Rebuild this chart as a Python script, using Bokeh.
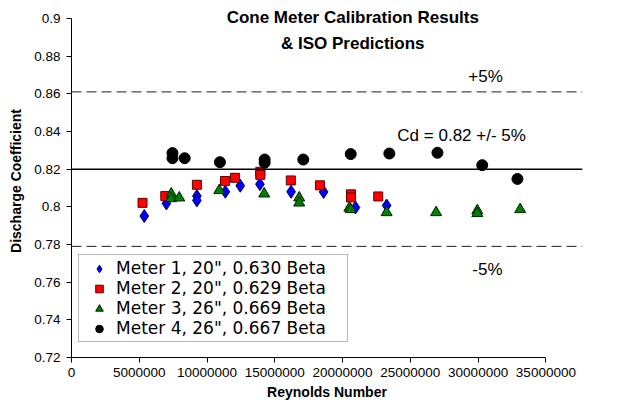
from bokeh.plotting import figure
from bokeh.models import (Range1d, FixedTicker, NumeralTickFormatter, CustomJSTickFormatter,
                          Span, Label, Legend, LegendItem)
from bokeh.embed import file_html
from bokeh.resources import INLINE

# ---------------- data ----------------
re1 = [5.37e6, 7.0e6, 9.25e6, 9.25e6, 11.35e6, 12.45e6, 13.9e6, 16.2e6, 18.6e6, 20.95e6, 23.25e6]
cd1 = [0.7951, 0.8018, 0.8057, 0.8034, 0.8080, 0.8112, 0.8120, 0.8080, 0.8079, 0.7996, 0.8007]

re2 = [5.24e6, 6.92e6, 9.25e6, 11.32e6, 12.06e6, 13.93e6, 13.93e6, 16.18e6, 18.33e6, 20.62e6, 20.62e6, 22.63e6]
cd2 = [0.8021, 0.8057, 0.8117, 0.8137, 0.8154, 0.8186, 0.8170, 0.8140, 0.8114, 0.8066, 0.8050, 0.8055]

re3 = [7.36e6, 7.36e6, 7.95e6, 10.9e6, 14.22e6, 16.8e6, 16.8e6, 20.5e6, 20.6e6, 23.25e6, 26.9e6, 29.94e6, 29.94e6, 33.1e6]
cd3 = [0.8069, 0.8044, 0.8048, 0.8087, 0.8069, 0.8048, 0.8021, 0.7994, 0.7986, 0.7970, 0.7970, 0.7980, 0.7965, 0.7986]

re4 = [7.45e6, 7.45e6, 8.35e6, 10.95e6, 14.25e6, 14.25e6, 17.1e6, 20.6e6, 23.45e6, 27.0e6, 30.3e6, 32.9e6]
cd4 = [0.8285, 0.8258, 0.8258, 0.8237, 0.8251, 0.8234, 0.8251, 0.8280, 0.8283, 0.8287, 0.8221, 0.8148]

series_labels = ['Meter 1, 20", 0.630 Beta', 'Meter 2, 20", 0.629 Beta',
                 'Meter 3, 26", 0.669 Beta', 'Meter 4, 26", 0.667 Beta']

cd_nominal = 0.82
cd_upper = 0.861
cd_lower = 0.779

x_ticks = [0, 5000000, 10000000, 15000000, 20000000, 25000000, 30000000, 35000000]
y_ticks = [0.72, 0.74, 0.76, 0.78, 0.80, 0.82, 0.84, 0.86, 0.88, 0.90]

FONT = "Liberation Sans"

# ---------------- figure ----------------
# frame extends a little above 0.9 (room for the title) and right of 35e6 (reference lines run on)
p = figure(width=607, height=404, output_backend="svg", toolbar_location=None,
           x_range=Range1d(0, 37.7e6), y_range=Range1d(0.72, 0.9074),
           min_border_left=71, min_border_right=25, min_border_top=4, min_border_bottom=47)
p.outline_line_color = None
p.grid.visible = False
p.background_fill_color = "white"
p.border_fill_color = "white"

for ax in (p.xaxis[0], p.yaxis[0]):
    ax.axis_line_color = "black"
    ax.axis_line_width = 1
    ax.major_tick_line_color = "black"
    ax.major_tick_in = 0
    ax.major_tick_out = 5
    ax.minor_tick_line_color = None
    ax.major_label_text_font = FONT
    ax.major_label_text_font_size = "13.5px"
    ax.major_label_text_color = "black"
    ax.axis_label_text_font = FONT
    ax.axis_label_text_font_size = "14px"
    ax.axis_label_text_font_style = "bold"
    ax.axis_label_text_color = "black"

p.xaxis.ticker = FixedTicker(ticks=x_ticks)
p.xaxis.bounds = (0, 35000000)
p.xaxis.formatter = NumeralTickFormatter(format="0")
p.xaxis.major_label_standoff = 5
p.xaxis.axis_label = "Reynolds Number"
p.xaxis.axis_label_standoff = 4

p.yaxis.ticker = FixedTicker(ticks=y_ticks)
p.yaxis.bounds = (0.72, 0.9)
p.yaxis.formatter = CustomJSTickFormatter(code="return String(Number(tick.toFixed(2)))")
p.yaxis.major_label_standoff = 6
p.yaxis.axis_label = "Discharge Coefficient"
p.yaxis.axis_label_standoff = 7

# reference lines
p.add_layout(Span(location=cd_nominal, dimension="width", line_color="black", line_width=1.5))
p.add_layout(Span(location=cd_upper, dimension="width", line_color="#202020", line_width=1,
                  line_dash="10 5"))
p.add_layout(Span(location=cd_lower, dimension="width", line_color="#202020", line_width=1,
                  line_dash="10 5"))

# data
r1 = p.scatter(re1, cd1, marker="diamond", size=13, fill_color="#0000FF", line_color="#00006A", line_width=1)
r2 = p.scatter(re2, cd2, marker="square", size=9, fill_color="#FF0000", line_color="#600000", line_width=1)
r3 = p.scatter(re3, cd3, marker="triangle", size=11, fill_color="#008000", line_color="#002000", line_width=1)
r4 = p.scatter(re4, cd4, marker="circle", size=11, fill_color="black", line_color="black", line_width=1)

legend = Legend(items=[LegendItem(label=series_labels[0], renderers=[r1]),
                       LegendItem(label=series_labels[1], renderers=[r2]),
                       LegendItem(label=series_labels[2], renderers=[r3]),
                       LegendItem(label=series_labels[3], renderers=[r4])],
                location=(7, 15))
legend.label_text_font = "DejaVu Sans"
legend.label_text_font_size = "17px"
legend.label_text_color = "black"
legend.padding = 3
legend.spacing = 0
legend.margin = 0
legend.glyph_width = 34
legend.glyph_height = 19
legend.label_height = 19
legend.label_width = 228
legend.label_standoff = 0
legend.border_line_color = "#707070"
legend.border_line_width = 1.5
legend.background_fill_color = "white"
legend.background_fill_alpha = 1
p.add_layout(legend, "center")

# texts
def lab(x, y, text, size, bold=False, align="left"):
    p.add_layout(Label(x=x, y=y, text=text, text_font=FONT, text_font_size=size,
                       text_font_style="bold" if bold else "normal", text_align=align,
                       text_baseline="alphabetic", text_color="black"))

lab(20.75e6, 0.9003, "Cone Meter Calibration Results", "17px", bold=True, align="center")
lab(20.75e6, 0.8869, "& ISO Predictions", "17px", bold=True, align="center")
lab(29.28e6, 0.8692, "+5%", "17px")
lab(29.57e6, 0.7667, "-5%", "17px")
lab(24.04e6, 0.8379, "Cd = 0.82 +/- 5%", "17px")

open("out.html", "w").write(file_html(p, INLINE))
